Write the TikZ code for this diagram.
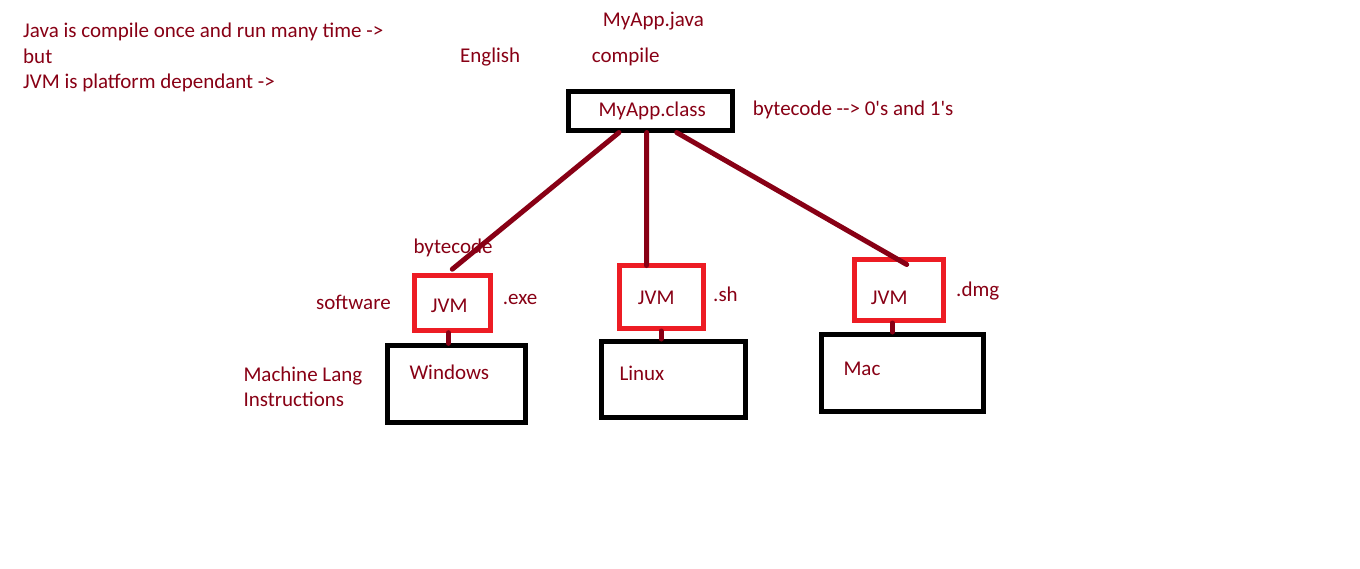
\documentclass[tikz,border=0pt]{standalone}
\usepackage{fontspec}
\setmainfont{Carlito}[Ligatures=TeXOff]
\definecolor{dred}{RGB}{136,0,21}
\definecolor{pred}{RGB}{237,28,36}
\begin{document}
\begin{tikzpicture}[x=1pt,y=-1pt,
  lbl/.style={inner sep=0pt, anchor=base west, text=dred, font=\fontsize{21}{25}\selectfont},
  blackbox/.style={draw=black, line width=5pt, inner sep=0pt},
  jvmbox/.style={draw=pred, line width=5pt, inner sep=0pt},
  conn/.style={draw=dred, line width=5pt, line cap=round}]
\useasboundingbox[fill=white] (0,0) rectangle (1360,568);

% boxes
\node[blackbox, minimum width=164.5pt, minimum height=38.6pt] (cls) at (650.7,110.7) {};
\node[jvmbox, minimum width=76pt, minimum height=55pt] (jvmw) at (452.3,302.7) {};
\node[blackbox, minimum width=137.7pt, minimum height=76.7pt] (win) at (456.3,384.2) {};
\node[jvmbox, minimum width=84pt, minimum height=63pt] (jvml) at (661.5,297) {};
\node[blackbox, minimum width=144pt, minimum height=76pt] (lin) at (673.5,379.5) {};
\node[jvmbox, minimum width=89pt, minimum height=61pt] (jvmm) at (899,290) {};
\node[blackbox, minimum width=162pt, minimum height=77pt] (mac) at (902.5,373) {};

% connectors
\draw[conn] ([xshift=-31.7pt]cls.south) -- ([yshift=3.5pt]jvmw.north);
\draw[conn] ([xshift=-4pt]cls.south) -- ([xshift=-15pt,yshift=-2.5pt]jvml.north);
\draw[conn] ([xshift=26pt]cls.south) -- ([xshift=7.7pt,yshift=-7.5pt]jvmm.north);
\draw[conn] ([xshift=-4pt]jvmw.south) -- ([xshift=-8pt]win.north);
\draw[conn] ([xshift=-0.5pt]jvml.south) -- ([xshift=-12.5pt]lin.north);
\draw[conn] ([xshift=-6.7pt]jvmm.south) -- ([xshift=-10.2pt]mac.north);

% labels
\node[lbl] (t1) at (23,37) {Java is compile once and run many time ->};
\node[lbl] (t2) at (23,63) {but};
\node[lbl] (t3) at (23,88.5) {JVM is platform dependant ->};
\node[lbl] (tjava) at (602.7,26) {MyApp.java};
\node[lbl] (teng) at (460,62) {English};
\node[lbl] (tcomp) at (591.7,62.5) {compile};
\node[lbl] (tcls) at (598.4,116) {MyApp.class};
\node[lbl] (tbc) at (752.7,115.5) {bytecode --> 0's and 1's};
\node[lbl] (tbc2) at (413.3,253.5) {bytecode};
\node[lbl] (tsw) at (316,309) {software};
\node[lbl] (tj1) at (430.7,312) {JVM};
\node[lbl] (texe) at (502.7,304.5) {.exe};
\node[lbl] (tj2) at (637.7,304.3) {JVM};
\node[lbl] (tsh) at (713,301.5) {.sh};
\node[lbl] (tj3) at (870.7,304.3) {JVM};
\node[lbl] (tdmg) at (956,296.5) {.dmg};
\node[lbl] (tml1) at (243.3,381) {Machine Lang};
\node[lbl] (tml2) at (243.3,406.5) {Instructions};
\node[lbl] (twin) at (409.3,379) {Windows};
\node[lbl] (tlin) at (619.3,380.5) {Linux};
\node[lbl] (tmac) at (843.3,375.5) {Mac};
\end{tikzpicture}
\end{document}
